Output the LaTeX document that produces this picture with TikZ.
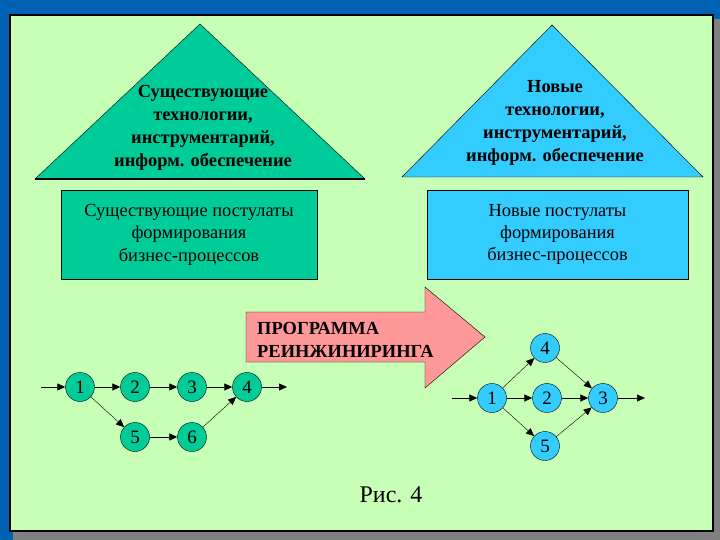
\documentclass[tikz,border=0pt]{standalone}
\usepackage{fontspec}
\setmainfont{Liberation Serif}
\usetikzlibrary{arrows.meta}
\definecolor{panelgreen}{RGB}{200,255,182}
\definecolor{oldgreen}{RGB}{0,204,153}
\definecolor{newblue}{RGB}{51,204,255}
\definecolor{progpink}{RGB}{255,153,153}
\definecolor{frameblue}{RGB}{0,98,178}
\definecolor{shadowgray}{RGB}{128,128,128}
\tikzset{
  evt/.style={circle,draw=black,thin,minimum size=29bp,inner sep=0pt,
    font=\fontsize{19}{19}\selectfont},
  oldevt/.style={evt,fill=oldgreen},
  newevt/.style={evt,fill=newblue},
  job/.style={-{Triangle[length=8bp,width=7bp]},line width=0.7bp},
  tritext/.style={align=center,font=\fontsize{18.5}{23}\selectfont\bfseries},
  postbox/.style={draw=black,thin,align=center,minimum height=89bp,
    font=\fontsize{18.5}{22.5}\selectfont}
}
\begin{document}
\begin{tikzpicture}[x=1bp,y=-1bp]
\useasboundingbox (0,0) rectangle (720,540);
\fill[frameblue] (0,0) rectangle (720,540);
\fill[shadowgray] (13,19) rectangle (720,540);
\draw[fill=panelgreen,line width=1.2bp] (10,15) rectangle (713,531);

% existing
\draw[fill=oldgreen] (200,24) -- (365,179) -- (35,179) -- cycle;
\draw[line width=1.5bp] (35,179) -- (365,179);
\node[tritext] (oldtech) at (203,128) {Существующие\\технологии,\\инструментарий,\\информ. обеспечение};
\node[postbox,fill=oldgreen,minimum width=256bp] (oldpost) at (189,234.5)
  {Существующие постулаты\\формирования\\бизнес-процессов};

% new
\draw[fill=newblue] (552,25) -- (703,177) -- (402,177) -- cycle;
\node[tritext] (newtech) at (555,123) {Новые\\технологии,\\инструментарий,\\информ. обеспечение};
\node[postbox,fill=newblue,minimum width=261bp] (newpost) at (557.5,234.5)
  {Новые постулаты\\формирования\\бизнес-процессов};

% program
\draw[fill=progpink] (246,312) -- (425,312) -- (425,287) -- (485,337)
  -- (425,388) -- (425,362) -- (246,362) -- cycle;
\node[anchor=west,align=left,inner sep=0pt,font=\fontsize{18.5}{23}\selectfont\bfseries]
  (prog) at (257,340) {ПРОГРАММА\\РЕИНЖИНИРИНГА};

% old network
\coordinate (ain) at (41,387);
\coordinate (aout) at (287,387);
\node[oldevt] (a1) at (80,387) {1};
\node[oldevt] (a2) at (135,387) {2};
\node[oldevt] (a3) at (192,387) {3};
\node[oldevt] (a4) at (247,387) {4};
\node[oldevt] (a5) at (135,437) {5};
\node[oldevt] (a6) at (192,437) {6};
\draw[job] (ain) -- (a1);
\draw[job] (a1) -- (a2);
\draw[job] (a2) -- (a3);
\draw[job] (a3) -- (a4);
\draw[job] (a4) -- (aout);
\draw[job,thin] (a1) -- (a5);
\draw[job] (a5) -- (a6);
\draw[job,thin] (a6) -- (a4);

% new network
\coordinate (bin) at (452,398);
\coordinate (bout) at (645,398);
\node[newevt] (b1) at (492,398) {1};
\node[newevt] (b2) at (547,398) {2};
\node[newevt] (b3) at (603,398) {3};
\node[newevt] (b4) at (545,348) {4};
\node[newevt] (b5) at (545,446) {5};
\draw[job] (bin) -- (b1);
\draw[job] (b1) -- (b2);
\draw[job] (b2) -- (b3);
\draw[job] (b3) -- (bout);
\draw[job,thin] (b1) -- (b4);
\draw[job,thin] (b1) -- (b5);
\draw[job,thin] (b4) -- (b3);
\draw[job,thin] (b5) -- (b3);

\node[font=\fontsize{24}{24}\selectfont] (caption) at (391,495) {Рис. 4};
\end{tikzpicture}
\end{document}
